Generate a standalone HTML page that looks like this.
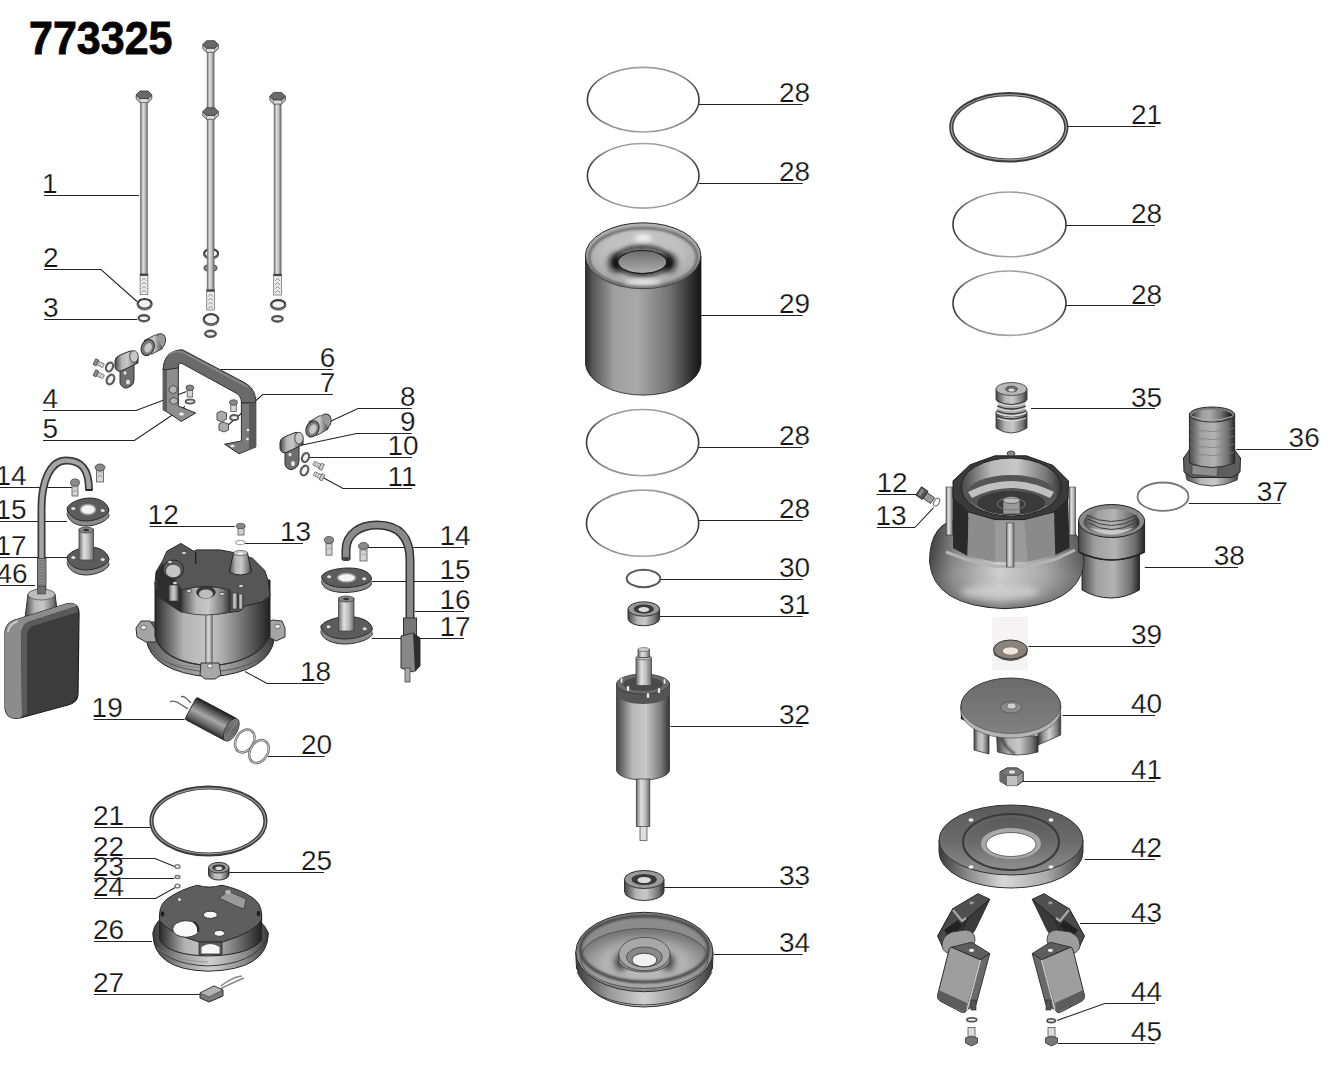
<!DOCTYPE html>
<html><head><meta charset="utf-8"><title>773325</title>
<style>
html,body{margin:0;padding:0;background:#fff;width:1341px;height:1081px;overflow:hidden}
svg{position:absolute;left:0;top:0;display:block}
text{font-family:"Liberation Sans",sans-serif;font-size:28px;fill:#141414;stroke:#fff;stroke-width:0.25px}
</style></head><body>
<svg width="1341" height="1081" viewBox="0 0 1341 1081">
<defs><linearGradient id="gCyl" x1="0" y1="0" x2="1" y2="0">
 <stop offset="0" stop-color="#2e2e2e"/><stop offset="0.06" stop-color="#555"/><stop offset="0.25" stop-color="#a0a0a0"/>
 <stop offset="0.45" stop-color="#a8a8a8"/><stop offset="0.72" stop-color="#747474"/><stop offset="0.92" stop-color="#2e2e2e"/><stop offset="1" stop-color="#141414"/>
</linearGradient>
<linearGradient id="gCylL" x1="0" y1="0" x2="1" y2="0">
 <stop offset="0" stop-color="#444"/><stop offset="0.3" stop-color="#b8b8b8"/><stop offset="0.55" stop-color="#c8c8c8"/>
 <stop offset="0.85" stop-color="#777"/><stop offset="1" stop-color="#333"/>
</linearGradient>
<linearGradient id="gShaft" x1="0" y1="0" x2="1" y2="0">
 <stop offset="0" stop-color="#6a6a6a"/><stop offset="0.35" stop-color="#e0e0e0"/><stop offset="0.65" stop-color="#bdbdbd"/><stop offset="1" stop-color="#6a6a6a"/>
</linearGradient>
<linearGradient id="gHousing" x1="0" y1="0" x2="1" y2="0">
 <stop offset="0" stop-color="#2a2a2a"/><stop offset="0.08" stop-color="#555"/><stop offset="0.25" stop-color="#b4b4b4"/>
 <stop offset="0.48" stop-color="#c4c4c4"/><stop offset="0.6" stop-color="#a8a8a8"/><stop offset="0.85" stop-color="#555"/><stop offset="1" stop-color="#222"/>
</linearGradient>
<linearGradient id="gFlange18" x1="0" y1="0" x2="1" y2="0">
 <stop offset="0" stop-color="#5a5a5a"/><stop offset="0.3" stop-color="#9a9a9a"/><stop offset="0.55" stop-color="#b0b0b0"/>
 <stop offset="0.85" stop-color="#6a6a6a"/><stop offset="1" stop-color="#3a3a3a"/>
</linearGradient>
<linearGradient id="gRimL" x1="0" y1="0" x2="1" y2="0">
 <stop offset="0" stop-color="#3a3a3a"/><stop offset="0.25" stop-color="#9a9a9a"/><stop offset="0.5" stop-color="#d0d0d0"/>
 <stop offset="0.8" stop-color="#8a8a8a"/><stop offset="1" stop-color="#3a3a3a"/>
</linearGradient>
<radialGradient id="gTorus" cx="0.5" cy="0.5" r="0.5">
 <stop offset="0" stop-color="#8a8a8a"/><stop offset="0.38" stop-color="#8a8a8a"/><stop offset="0.42" stop-color="#1a1a1a"/>
 <stop offset="0.6" stop-color="#6a6a6a"/><stop offset="0.78" stop-color="#c4c4c4"/><stop offset="0.92" stop-color="#a0a0a0"/><stop offset="1" stop-color="#555"/>
</radialGradient>
<linearGradient id="gVolute" x1="0" y1="0" x2="1" y2="0">
 <stop offset="0" stop-color="#333"/><stop offset="0.15" stop-color="#7a7a7a"/><stop offset="0.45" stop-color="#c8c8c8"/>
 <stop offset="0.75" stop-color="#9a9a9a"/><stop offset="1" stop-color="#4a4a4a"/>
</linearGradient>
<linearGradient id="gVoluteV" x1="0" y1="0" x2="0" y2="1">
 <stop offset="0" stop-color="#888" stop-opacity="0"/><stop offset="0.6" stop-color="#fff" stop-opacity="0.15"/><stop offset="1" stop-color="#222" stop-opacity="0.45"/>
</linearGradient>
<linearGradient id="gPlateRim" x1="0" y1="0" x2="1" y2="0">
 <stop offset="0" stop-color="#3a3a3a"/><stop offset="0.2" stop-color="#8a8a8a"/><stop offset="0.45" stop-color="#d8d8d8"/>
 <stop offset="0.75" stop-color="#aaa"/><stop offset="1" stop-color="#444"/>
</linearGradient>
<linearGradient id="gFloat" x1="0" y1="0" x2="1" y2="0.2">
 <stop offset="0" stop-color="#555"/><stop offset="0.15" stop-color="#aaa"/><stop offset="0.3" stop-color="#6a6a6a"/><stop offset="1" stop-color="#333"/>
</linearGradient>
<linearGradient id="gCap" x1="0" y1="0" x2="0" y2="1">
 <stop offset="0" stop-color="#1e1e1e"/><stop offset="0.2" stop-color="#555"/><stop offset="0.5" stop-color="#a8a8a8"/><stop offset="0.8" stop-color="#666"/><stop offset="1" stop-color="#2a2a2a"/>
</linearGradient>
<filter id="b1" x="-50%" y="-50%" width="200%" height="200%"><feGaussianBlur stdDeviation="1"/></filter>
<filter id="b2" x="-50%" y="-50%" width="200%" height="200%"><feGaussianBlur stdDeviation="2"/></filter>
<filter id="b3" x="-50%" y="-50%" width="200%" height="200%"><feGaussianBlur stdDeviation="3.5"/></filter>
<radialGradient id="gTop29" cx="0.5" cy="0.45" r="0.55">
 <stop offset="0" stop-color="#c8c8c8"/><stop offset="0.6" stop-color="#c0c0c0"/><stop offset="0.9" stop-color="#a8a8a8"/><stop offset="1" stop-color="#8a8a8a"/>
</radialGradient>
<linearGradient id="gHole" x1="0" y1="0" x2="0" y2="1">
 <stop offset="0" stop-color="#6a6a6a"/><stop offset="1" stop-color="#b0b0b0"/>
</linearGradient>
<radialGradient id="gBowl" cx="0.5" cy="0.6" r="0.55">
 <stop offset="0" stop-color="#c4c4c4"/><stop offset="0.6" stop-color="#b0b0b0"/><stop offset="1" stop-color="#7a7a7a"/>
</radialGradient>
<linearGradient id="gOutlet" x1="0" y1="0" x2="1" y2="0">
 <stop offset="0" stop-color="#4a4a4a"/><stop offset="0.25" stop-color="#a0a0a0"/><stop offset="0.55" stop-color="#b4b4b4"/><stop offset="0.85" stop-color="#707070"/><stop offset="1" stop-color="#262626"/>
</linearGradient>
<linearGradient id="gRingS" x1="0" y1="0" x2="1" y2="0">
 <stop offset="0" stop-color="#3a3a3a"/><stop offset="0.15" stop-color="#8a8a8a"/><stop offset="0.5" stop-color="#a4a4a4"/><stop offset="0.85" stop-color="#8a8a8a"/><stop offset="1" stop-color="#3a3a3a"/>
</linearGradient>
<linearGradient id="gPlate42" x1="0" y1="0" x2="0" y2="1">
 <stop offset="0" stop-color="#5a5a5a"/><stop offset="0.5" stop-color="#6a6a6a"/><stop offset="1" stop-color="#8e8e8e"/>
</linearGradient>
<linearGradient id="gImp" x1="0" y1="0" x2="0" y2="1">
 <stop offset="0" stop-color="#6a6a6a"/><stop offset="1" stop-color="#828282"/>
</linearGradient>
</defs>
<rect width="1341" height="1081" fill="#fff"/>
<text x="29" y="54" style="font-weight:bold;font-size:43px;fill:#050505;stroke:#050505;stroke-width:0.8px" transform="translate(29 54) scale(1 1.07) translate(-29 -54)">773325</text>
<text x="42.0" y="192.9">1</text>
<polyline points="44.0,195.5 139.0,195.5" fill="none" stroke="#222" stroke-width="1.05"/>
<text x="43.0" y="267.2">2</text>
<polyline points="44.0,269.5 101.0,269.5 137.0,301.5" fill="none" stroke="#222" stroke-width="1.05"/>
<text x="43.0" y="316.6">3</text>
<polyline points="44.0,319.5 137.0,319.5" fill="none" stroke="#222" stroke-width="1.05"/>
<text x="42.4" y="407.6">4</text>
<polyline points="43.0,410.5 136.0,410.5 186.6,391.5" fill="none" stroke="#222" stroke-width="1.05"/>
<text x="42.4" y="438.0">5</text>
<polyline points="43.0,440.5 134.4,440.5 185.0,406.5" fill="none" stroke="#222" stroke-width="1.05"/>
<text x="319.8" y="367.0">6</text>
<polyline points="221.0,369.5 332.8,369.5" fill="none" stroke="#222" stroke-width="1.05"/>
<text x="319.8" y="392.3">7</text>
<polyline points="225.4,427.5 262.7,394.5 332.8,394.5" fill="none" stroke="#222" stroke-width="1.05"/>
<text x="400.0" y="405.6">8</text>
<polyline points="330.0,421.5 358.0,408.5 411.8,408.5" fill="none" stroke="#222" stroke-width="1.05"/>
<text x="400.0" y="430.6">9</text>
<polyline points="300.0,445.5 356.6,433.5 411.8,433.5" fill="none" stroke="#222" stroke-width="1.05"/>
<text x="387.5" y="455.3">10</text>
<polyline points="307.0,457.5 412.0,457.5" fill="none" stroke="#222" stroke-width="1.05"/>
<text x="387.5" y="485.6">11</text>
<polyline points="321.0,476.5 343.0,488.5 412.0,488.5" fill="none" stroke="#222" stroke-width="1.05"/>
<text x="-4.5" y="484.6">14</text>
<polyline points="0.0,487.5 72.5,487.5" fill="none" stroke="#222" stroke-width="1.05"/>
<text x="-4.5" y="518.6">15</text>
<polyline points="0.0,521.5 67.0,521.5" fill="none" stroke="#222" stroke-width="1.05"/>
<text x="-4.5" y="555.2">17</text>
<polyline points="0.0,557.5 70.0,557.5" fill="none" stroke="#222" stroke-width="1.05"/>
<text x="-3.5" y="582.6">46</text>
<polyline points="0.0,585.5 35.0,585.5" fill="none" stroke="#222" stroke-width="1.05"/>
<text x="147.6" y="524.4">12</text>
<polyline points="149.6,526.5 234.7,526.5" fill="none" stroke="#222" stroke-width="1.05"/>
<text x="280.0" y="540.6">13</text>
<polyline points="245.0,543.5 303.0,543.5" fill="none" stroke="#222" stroke-width="1.05"/>
<text x="439.5" y="544.6">14</text>
<polyline points="366.6,547.5 464.0,547.5" fill="none" stroke="#222" stroke-width="1.05"/>
<text x="439.5" y="579.2">15</text>
<polyline points="371.6,581.5 464.0,581.5" fill="none" stroke="#222" stroke-width="1.05"/>
<text x="439.5" y="608.6">16</text>
<polyline points="415.0,611.5 464.0,611.5" fill="none" stroke="#222" stroke-width="1.05"/>
<text x="439.5" y="635.6">17</text>
<polyline points="371.6,638.5 464.0,638.5" fill="none" stroke="#222" stroke-width="1.05"/>
<text x="300.0" y="680.6">18</text>
<polyline points="245.0,671.5 267.0,683.5 324.0,683.5" fill="none" stroke="#222" stroke-width="1.05"/>
<text x="91.6" y="716.6">19</text>
<polyline points="93.6,719.5 184.7,719.5" fill="none" stroke="#222" stroke-width="1.05"/>
<text x="301.0" y="753.6">20</text>
<polyline points="268.0,756.5 324.7,756.5" fill="none" stroke="#222" stroke-width="1.05"/>
<text x="93.0" y="825.3">21</text>
<polyline points="94.0,827.5 150.6,827.5" fill="none" stroke="#222" stroke-width="1.05"/>
<text x="93.0" y="855.6">22</text>
<polyline points="94.0,858.5 155.0,858.5 177.0,867.5" fill="none" stroke="#222" stroke-width="1.05"/>
<text x="93.0" y="875.6">23</text>
<polyline points="94.0,878.5 174.0,878.5" fill="none" stroke="#222" stroke-width="1.05"/>
<text x="93.0" y="896.3">24</text>
<polyline points="94.0,898.5 155.6,898.5 177.0,886.5" fill="none" stroke="#222" stroke-width="1.05"/>
<text x="301.0" y="870.4">25</text>
<polyline points="229.0,872.5 324.0,872.5" fill="none" stroke="#222" stroke-width="1.05"/>
<text x="93.0" y="939.3">26</text>
<polyline points="94.0,941.5 152.0,941.5" fill="none" stroke="#222" stroke-width="1.05"/>
<text x="93.0" y="992.2">27</text>
<polyline points="94.0,994.5 199.6,994.5" fill="none" stroke="#222" stroke-width="1.05"/>
<text x="779.0" y="102.1">28</text>
<polyline points="698.8,104.5 802.7,104.5" fill="none" stroke="#222" stroke-width="1.05"/>
<text x="779.0" y="181.1">28</text>
<polyline points="698.8,183.5 802.7,183.5" fill="none" stroke="#222" stroke-width="1.05"/>
<text x="779.0" y="313.0">29</text>
<polyline points="701.2,315.5 802.7,315.5" fill="none" stroke="#222" stroke-width="1.05"/>
<text x="779.0" y="445.1">28</text>
<polyline points="698.7,447.5 802.7,447.5" fill="none" stroke="#222" stroke-width="1.05"/>
<text x="779.0" y="518.3">28</text>
<polyline points="698.7,520.5 802.7,520.5" fill="none" stroke="#222" stroke-width="1.05"/>
<text x="779.0" y="577.2">30</text>
<polyline points="661.0,579.5 802.7,579.5" fill="none" stroke="#222" stroke-width="1.05"/>
<text x="779.0" y="614.3">31</text>
<polyline points="659.6,616.5 802.7,616.5" fill="none" stroke="#222" stroke-width="1.05"/>
<text x="779.0" y="723.6">32</text>
<polyline points="670.4,726.5 802.7,726.5" fill="none" stroke="#222" stroke-width="1.05"/>
<text x="779.0" y="884.6">33</text>
<polyline points="664.0,887.5 802.7,887.5" fill="none" stroke="#222" stroke-width="1.05"/>
<text x="779.0" y="952.0">34</text>
<polyline points="714.0,954.5 802.7,954.5" fill="none" stroke="#222" stroke-width="1.05"/>
<text x="1131.0" y="124.3">21</text>
<polyline points="1067.0,126.5 1155.0,126.5" fill="none" stroke="#222" stroke-width="1.05"/>
<text x="1131.0" y="222.8">28</text>
<polyline points="1066.0,225.5 1155.0,225.5" fill="none" stroke="#222" stroke-width="1.05"/>
<text x="1131.0" y="303.5">28</text>
<polyline points="1066.0,305.5 1155.0,305.5" fill="none" stroke="#222" stroke-width="1.05"/>
<text x="1131.0" y="406.5">35</text>
<polyline points="1031.0,408.5 1155.0,408.5" fill="none" stroke="#222" stroke-width="1.05"/>
<text x="1131.0" y="644.4">39</text>
<polyline points="1026.9,646.5 1155.0,646.5" fill="none" stroke="#222" stroke-width="1.05"/>
<text x="1131.0" y="712.9">40</text>
<polyline points="1062.5,715.5 1155.0,715.5" fill="none" stroke="#222" stroke-width="1.05"/>
<text x="1131.0" y="779.2">41</text>
<polyline points="1022.4,781.5 1155.0,781.5" fill="none" stroke="#222" stroke-width="1.05"/>
<text x="1131.0" y="856.9">42</text>
<polyline points="1084.7,859.5 1155.0,859.5" fill="none" stroke="#222" stroke-width="1.05"/>
<text x="1131.0" y="921.5">43</text>
<polyline points="1080.0,923.5 1155.0,923.5" fill="none" stroke="#222" stroke-width="1.05"/>
<text x="1131.0" y="1040.6">45</text>
<polyline points="1058.0,1043.5 1155.0,1043.5" fill="none" stroke="#222" stroke-width="1.05"/>
<text x="1131.0" y="1000.6">44</text>
<polyline points="1057.0,1020.5 1104.7,1003.5 1155.0,1003.5" fill="none" stroke="#222" stroke-width="1.05"/>
<text x="1288.6" y="446.9">36</text>
<polyline points="1236.3,449.5 1312.0,449.5" fill="none" stroke="#222" stroke-width="1.05"/>
<text x="876.5" y="492.4">12</text>
<polyline points="876.5,494.5 920.3,494.5" fill="none" stroke="#222" stroke-width="1.05"/>
<text x="875.5" y="525.0">13</text>
<polyline points="876.7,527.5 914.8,527.5 933.7,507.5" fill="none" stroke="#222" stroke-width="1.05"/>
<text x="1256.7" y="501.3">37</text>
<polyline points="1188.8,503.5 1281.0,503.5" fill="none" stroke="#222" stroke-width="1.05"/>
<text x="1213.8" y="565.4">38</text>
<polyline points="1144.8,567.5 1238.0,567.5" fill="none" stroke="#222" stroke-width="1.05"/>
<rect x="140.5" y="101.0" width="7.0" height="173.2" fill="url(#gShaft)" stroke="#6a6a6a" stroke-width="0.6" />
<rect x="140.1" y="274.2" width="7.8" height="20.4" fill="#ececec" stroke="#777" stroke-width="0.8" />
<rect x="139.9" y="273.7" width="8.2" height="2.2" fill="#444" stroke="none" stroke-width="1" />
<polyline points="141.7,280.7 144.0,278.2 146.3,280.7" fill="none" stroke="#777" stroke-width="0.8"/>
<polyline points="141.7,284.7 144.0,282.2 146.3,284.7" fill="none" stroke="#777" stroke-width="0.8"/>
<polyline points="141.7,288.7 144.0,286.2 146.3,288.7" fill="none" stroke="#777" stroke-width="0.8"/>
<polyline points="141.7,292.7 144.0,290.2 146.3,292.7" fill="none" stroke="#777" stroke-width="0.8"/>
<polygon points="136.2,94.8 136.2,99.0 140.0,102.5 148.0,102.5 151.8,99.0 151.8,94.8 148.0,98.5 140.0,98.5" fill="#c0c0c0" stroke="#3e3e3e" stroke-width="0.8" />
<polygon points="140.0,98.5 148.0,98.5 148.0,102.5 140.0,102.5" fill="#dcdcdc" stroke="#555" stroke-width="0.5" />
<polygon points="136.2,94.8 140.0,91.0 148.0,91.0 151.8,94.8 148.0,98.5 140.0,98.5" fill="#6a6a6a" stroke="#333" stroke-width="0.8" />
<ellipse cx="144.6" cy="304.6" rx="6.9" ry="4.8" fill="none" stroke="#888" stroke-width="2.2" />
<ellipse cx="144.6" cy="303.8" rx="6.9" ry="4.8" fill="#f2f2f2" stroke="#3e3e3e" stroke-width="2.2" />
<path d="M137.5,303.8 A6.8999999999999995,4.8 0 0 0 151.7,303.8" fill="none" stroke="#7a7a7a" stroke-width="1" />
<ellipse cx="143.9" cy="318.2" rx="5.3" ry="3.0" fill="#f0f0f0" stroke="#555" stroke-width="2.4" />
<rect x="207.1" y="50.7" width="7.0" height="239.3" fill="url(#gShaft)" stroke="#6a6a6a" stroke-width="0.6" />
<rect x="206.7" y="290.0" width="7.8" height="20.0" fill="#ececec" stroke="#777" stroke-width="0.8" />
<rect x="206.5" y="289.5" width="8.2" height="2.2" fill="#444" stroke="none" stroke-width="1" />
<polyline points="208.3,296.5 210.6,294.0 212.9,296.5" fill="none" stroke="#777" stroke-width="0.8"/>
<polyline points="208.3,300.5 210.6,298.0 212.9,300.5" fill="none" stroke="#777" stroke-width="0.8"/>
<polyline points="208.3,304.5 210.6,302.0 212.9,304.5" fill="none" stroke="#777" stroke-width="0.8"/>
<polyline points="208.3,308.5 210.6,306.0 212.9,308.5" fill="none" stroke="#777" stroke-width="0.8"/>
<polygon points="202.8,44.5 202.8,48.7 206.6,52.2 214.6,52.2 218.3,48.7 218.3,44.5 214.6,48.2 206.6,48.2" fill="#c0c0c0" stroke="#3e3e3e" stroke-width="0.8" />
<polygon points="206.6,48.2 214.6,48.2 214.6,52.2 206.6,52.2" fill="#dcdcdc" stroke="#555" stroke-width="0.5" />
<polygon points="202.8,44.5 206.6,40.7 214.6,40.7 218.3,44.5 214.6,48.2 206.6,48.2" fill="#6a6a6a" stroke="#333" stroke-width="0.8" />
<polygon points="202.8,111.6 202.8,115.8 206.6,119.3 214.6,119.3 218.3,115.8 218.3,111.6 214.6,115.3 206.6,115.3" fill="#c0c0c0" stroke="#3e3e3e" stroke-width="0.8" />
<polygon points="206.6,115.3 214.6,115.3 214.6,119.3 206.6,119.3" fill="#dcdcdc" stroke="#555" stroke-width="0.5" />
<polygon points="202.8,111.6 206.6,107.8 214.6,107.8 218.3,111.6 214.6,115.3 206.6,115.3" fill="#6a6a6a" stroke="#333" stroke-width="0.8" />
<ellipse cx="211.1" cy="254.3" rx="7.0" ry="4.4" fill="none" stroke="#888" stroke-width="2.2" />
<ellipse cx="211.1" cy="253.5" rx="7.0" ry="4.4" fill="#f2f2f2" stroke="#3e3e3e" stroke-width="2.2" />
<path d="M203.9,253.5 A6.999999999999999,4.3999999999999995 0 0 0 218.29999999999998,253.5" fill="none" stroke="#7a7a7a" stroke-width="1" />
<ellipse cx="210.5" cy="268.0" rx="6.5" ry="3.5" fill="#8a8a8a" stroke="#555" stroke-width="1.2" />
<rect x="207.1" y="246.0" width="7.0" height="26.0" fill="url(#gShaft)" stroke="none" stroke-width="1" />
<ellipse cx="211.0" cy="320.1" rx="7.2" ry="5.1" fill="none" stroke="#888" stroke-width="2.2" />
<ellipse cx="211.0" cy="319.3" rx="7.2" ry="5.1" fill="#f2f2f2" stroke="#3e3e3e" stroke-width="2.2" />
<path d="M203.6,319.3 A7.2,5.1 0 0 0 218.4,319.3" fill="none" stroke="#7a7a7a" stroke-width="1" />
<ellipse cx="210.5" cy="333.8" rx="5.3" ry="3.0" fill="#f0f0f0" stroke="#555" stroke-width="2.4" />
<rect x="274.1" y="102.4" width="7.0" height="172.0" fill="url(#gShaft)" stroke="#6a6a6a" stroke-width="0.6" />
<rect x="273.7" y="274.4" width="7.8" height="20.6" fill="#ececec" stroke="#777" stroke-width="0.8" />
<rect x="273.5" y="273.9" width="8.2" height="2.2" fill="#444" stroke="none" stroke-width="1" />
<polyline points="275.3,280.9 277.6,278.4 279.9,280.9" fill="none" stroke="#777" stroke-width="0.8"/>
<polyline points="275.3,284.9 277.6,282.4 279.9,284.9" fill="none" stroke="#777" stroke-width="0.8"/>
<polyline points="275.3,288.9 277.6,286.4 279.9,288.9" fill="none" stroke="#777" stroke-width="0.8"/>
<polyline points="275.3,292.9 277.6,290.4 279.9,292.9" fill="none" stroke="#777" stroke-width="0.8"/>
<polygon points="269.9,96.2 269.9,100.4 273.6,103.9 281.6,103.9 285.4,100.4 285.4,96.2 281.6,99.9 273.6,99.9" fill="#c0c0c0" stroke="#3e3e3e" stroke-width="0.8" />
<polygon points="273.6,99.9 281.6,99.9 281.6,103.9 273.6,103.9" fill="#dcdcdc" stroke="#555" stroke-width="0.5" />
<polygon points="269.9,96.2 273.6,92.4 281.6,92.4 285.4,96.2 281.6,99.9 273.6,99.9" fill="#6a6a6a" stroke="#333" stroke-width="0.8" />
<ellipse cx="278.2" cy="305.3" rx="7.0" ry="4.4" fill="none" stroke="#888" stroke-width="2.2" />
<ellipse cx="278.2" cy="304.5" rx="7.0" ry="4.4" fill="#f2f2f2" stroke="#3e3e3e" stroke-width="2.2" />
<path d="M271.0,304.5 A6.999999999999999,4.3999999999999995 0 0 0 285.4,304.5" fill="none" stroke="#7a7a7a" stroke-width="1" />
<ellipse cx="277.4" cy="318.8" rx="5.2" ry="2.7" fill="#f0f0f0" stroke="#555" stroke-width="2.4" />
<polygon points="163.2,368.0 178.3,364.0 178.3,406.0 195.7,413.0 181.3,421.4 166.8,411.8 163.2,410.0" fill="#8e8e8e" stroke="#2a2a2a" stroke-width="1" />
<polygon points="163.2,368.0 167.0,366.0 167.0,412.0 163.2,410.0" fill="#5e5e5e" stroke="none" stroke-width="1" />
<ellipse cx="181.5" cy="414.0" rx="2.4" ry="1.5" fill="#eee" stroke="none" stroke-width="1" />
<path d="M163.2,370 C163,357 171,349.8 182.5,349.8 L245,382.9 C253,387.5 255.8,394 255.8,403 L241.4,403 C241.4,398 239.5,395 235,392.5 L183,364 C179.5,362.3 178.3,364 178.3,368 Z" fill="#6a6a6a" stroke="#2e2e2e" stroke-width="1" />
<path d="M168,355 C172,351.5 177,351 182.5,352 L248,387" fill="none" stroke="#8a8a8a" stroke-width="1.6" />
<polygon points="241.4,403.0 255.8,403.0 255.8,447.0 239.0,453.8 224.5,444.2 241.4,441.0" fill="#7a7a7a" stroke="#2e2e2e" stroke-width="1" />
<polygon points="249.0,403.0 255.8,403.0 255.8,447.0 249.0,450.0" fill="#5a5a5a" stroke="none" stroke-width="1" />
<ellipse cx="248.0" cy="430.0" rx="1.3" ry="1.3" fill="#eee" stroke="none" stroke-width="1" />
<ellipse cx="247.5" cy="439.0" rx="1.3" ry="1.3" fill="#eee" stroke="none" stroke-width="1" />
<ellipse cx="232.5" cy="446.0" rx="2.2" ry="1.3" fill="#eee" stroke="none" stroke-width="1" />
<polygon points="169.2,388.0 173.0,385.3 177.0,387.5 177.0,391.5 173.0,393.7 169.2,391.5" fill="#b4b4b4" stroke="#3a3a3a" stroke-width="0.8" />
<polygon points="169.8,399.5 173.7,397.3 177.7,399.5 177.7,402.5 173.7,404.5 169.8,402.5" fill="#b4b4b4" stroke="#3a3a3a" stroke-width="0.8" />
<rect x="187.2" y="388.5" width="5.5" height="8.5" fill="#d4d4d4" stroke="#555" stroke-width="0.8" />
<ellipse cx="189.9" cy="387.8" rx="4.0" ry="2.8" fill="#8a8a8a" stroke="#444" stroke-width="0.8" />
<ellipse cx="190.1" cy="401.6" rx="4.4" ry="2.0" fill="#f0f0f0" stroke="#5a5a5a" stroke-width="2" />
<rect x="230.8" y="403.5" width="5.5" height="8.0" fill="#d4d4d4" stroke="#555" stroke-width="0.8" />
<ellipse cx="233.5" cy="402.5" rx="4.0" ry="2.8" fill="#8a8a8a" stroke="#444" stroke-width="0.8" />
<polygon points="217.0,413.0 221.0,411.0 226.5,413.0 226.5,419.0 222.0,422.0 217.0,420.0" fill="#aaa" stroke="#444" stroke-width="0.9" />
<polygon points="219.0,424.0 223.0,422.0 228.5,424.0 228.5,430.0 224.0,432.0 219.0,430.0" fill="#aaa" stroke="#444" stroke-width="0.9" />
<ellipse cx="234.2" cy="417.5" rx="4.0" ry="2.5" fill="#f0f0f0" stroke="#5a5a5a" stroke-width="2" />
<path d="M120,367 L120,383 Q122,388.5 127,388 L131,386 Q134,384 134,379 L134,365 Z" fill="#6e6e6e" stroke="#2e2e2e" stroke-width="1" />
<ellipse cx="128.0" cy="382.0" rx="2.0" ry="2.6" fill="#e4e4e4" stroke="none" stroke-width="1" />
<ellipse cx="125.0" cy="373.0" rx="1.5" ry="1.8" fill="#e4e4e4" stroke="none" stroke-width="1" />
<path d="M115,361 Q115,357 120,355 L130,351 Q138,350 138,358 L138,363 L121,371 Q116,372 115,367 Z" fill="url(#gCylL)" stroke="#2e2e2e" stroke-width="1" />
<ellipse cx="134.0" cy="356.5" rx="4.2" ry="5.8" fill="#c8c8c8" stroke="#3a3a3a" stroke-width="0.8" />
<ellipse cx="159.0" cy="341.7" rx="6.3" ry="8.3" fill="#9a9a9a" stroke="#333" stroke-width="0.9" transform="rotate(25 159.0 341.7)"/>
<polygon points="151.3,354.4 162.6,348.6 155.4,334.8 144.1,340.6" fill="url(#gCylL)" stroke="none" stroke-width="1" />
<path d="M151.3,354.4 L162.6,348.6" fill="none" stroke="#333" stroke-width="0.9" />
<path d="M144.1,340.6 L155.4,334.8" fill="none" stroke="#333" stroke-width="0.9" />
<ellipse cx="147.7" cy="347.5" rx="6.3" ry="8.3" fill="#7a7a7a" stroke="#2e2e2e" stroke-width="1" transform="rotate(25 147.7 347.5)"/>
<ellipse cx="148.2" cy="347.5" rx="3.5" ry="5.0" fill="#c8c8c8" stroke="none" stroke-width="1" transform="rotate(25 147.7 347.5)"/>
<g transform="rotate(25 98.5 363.5)">
<rect x="96.5" y="361.5" width="7.5" height="4.0" fill="#dcdcdc" stroke="#666" stroke-width="0.7" />
<polyline points="98.5,361.5 98.5,365.5" fill="none" stroke="#888" stroke-width="0.6"/>
<polyline points="101.0,361.5 101.0,365.5" fill="none" stroke="#888" stroke-width="0.6"/>
<rect x="94.0" y="360.3" width="3.2" height="6.4" fill="#8a8a8a" stroke="#444" stroke-width="0.7" />
</g>
<g transform="rotate(25 98.5 374.5)">
<rect x="96.5" y="372.5" width="7.5" height="4.0" fill="#dcdcdc" stroke="#666" stroke-width="0.7" />
<polyline points="98.5,372.5 98.5,376.5" fill="none" stroke="#888" stroke-width="0.6"/>
<polyline points="101.0,372.5 101.0,376.5" fill="none" stroke="#888" stroke-width="0.6"/>
<rect x="94.0" y="371.3" width="3.2" height="6.4" fill="#8a8a8a" stroke="#444" stroke-width="0.7" />
</g>
<ellipse cx="109.5" cy="367.0" rx="3.3" ry="4.7" fill="#f0f0f0" stroke="#5a5a5a" stroke-width="2.2" transform="rotate(25 109.5 367)"/>
<ellipse cx="110.5" cy="379.5" rx="3.5" ry="5.1" fill="#f0f0f0" stroke="#5a5a5a" stroke-width="2.2" transform="rotate(25 110.5 379.5)"/>
<path d="M285,448.6 L285,464.6 Q287,470.1 292,469.6 L296,467.6 Q299,465.6 299,460.6 L299,446.6 Z" fill="#6e6e6e" stroke="#2e2e2e" stroke-width="1" />
<ellipse cx="293.0" cy="463.6" rx="2.0" ry="2.6" fill="#e4e4e4" stroke="none" stroke-width="1" />
<ellipse cx="290.0" cy="454.6" rx="1.5" ry="1.8" fill="#e4e4e4" stroke="none" stroke-width="1" />
<path d="M280,442.6 Q280,438.6 285,436.6 L295,432.6 Q303,431.6 303,439.6 L303,444.6 L286,452.6 Q281,453.6 280,448.6 Z" fill="url(#gCylL)" stroke="#2e2e2e" stroke-width="1" />
<ellipse cx="299.0" cy="438.1" rx="4.2" ry="5.8" fill="#c8c8c8" stroke="#3a3a3a" stroke-width="0.8" />
<ellipse cx="324.5" cy="422.0" rx="6.3" ry="8.3" fill="#9a9a9a" stroke="#333" stroke-width="0.9" transform="rotate(25 324.5 422)"/>
<polygon points="316.4,435.7 328.4,428.8 320.6,415.2 308.6,422.1" fill="url(#gCylL)" stroke="none" stroke-width="1" />
<path d="M316.4,435.7 L328.4,428.8" fill="none" stroke="#333" stroke-width="0.9" />
<path d="M308.6,422.1 L320.6,415.2" fill="none" stroke="#333" stroke-width="0.9" />
<ellipse cx="312.5" cy="428.9" rx="6.3" ry="8.3" fill="#7a7a7a" stroke="#2e2e2e" stroke-width="1" transform="rotate(25 312.5 428.9)"/>
<ellipse cx="313.0" cy="428.9" rx="3.5" ry="5.0" fill="#c8c8c8" stroke="none" stroke-width="1" transform="rotate(25 312.5 428.9)"/>
<ellipse cx="305.5" cy="457.5" rx="3.3" ry="4.7" fill="#f0f0f0" stroke="#5a5a5a" stroke-width="2.2" transform="rotate(25 305.5 457.5)"/>
<ellipse cx="304.5" cy="470.5" rx="3.5" ry="5.1" fill="#f0f0f0" stroke="#5a5a5a" stroke-width="2.2" transform="rotate(25 304.5 470.5)"/>
<g transform="rotate(25 315.5 464)">
<rect x="313.5" y="462.0" width="7.5" height="4.0" fill="#dcdcdc" stroke="#666" stroke-width="0.7" />
<polyline points="315.5,462.0 315.5,466.0" fill="none" stroke="#888" stroke-width="0.6"/>
<polyline points="318.0,462.0 318.0,466.0" fill="none" stroke="#888" stroke-width="0.6"/>
<rect x="320.5" y="460.8" width="3.2" height="6.4" fill="#d0d0d0" stroke="#555" stroke-width="0.7" />
</g>
<g transform="rotate(25 316 474.5)">
<rect x="314.0" y="472.5" width="7.5" height="4.0" fill="#dcdcdc" stroke="#666" stroke-width="0.7" />
<polyline points="316.0,472.5 316.0,476.5" fill="none" stroke="#888" stroke-width="0.6"/>
<polyline points="318.5,472.5 318.5,476.5" fill="none" stroke="#888" stroke-width="0.6"/>
<rect x="321.0" y="471.3" width="3.2" height="6.4" fill="#d0d0d0" stroke="#555" stroke-width="0.7" />
</g>
<path d="M41.5,592 L41.5,508 C41.5,482 50,460.5 66,460.5 C83,460.5 89,471 89,490" fill="none" stroke="#3a3a3a" stroke-width="8" />
<path d="M41.5,592 L41.5,508 C41.5,482 50,460.5 66,460.5 C83,460.5 89,471 89,490" fill="none" stroke="#a4a4a4" stroke-width="4.6" />
<path d="M85.5,490 L92.5,490" fill="none" stroke="#222" stroke-width="2" />
<rect x="37.5" y="558.5" width="8.5" height="32.0" fill="#8c8c8c" stroke="#3a3a3a" stroke-width="0.8" />
<polyline points="37.5,561.0 46.0,561.0" fill="none" stroke="#5a5a5a" stroke-width="0.6"/>
<polyline points="37.5,564.0 46.0,564.0" fill="none" stroke="#5a5a5a" stroke-width="0.6"/>
<polyline points="37.5,567.0 46.0,567.0" fill="none" stroke="#5a5a5a" stroke-width="0.6"/>
<polyline points="37.5,570.0 46.0,570.0" fill="none" stroke="#5a5a5a" stroke-width="0.6"/>
<polyline points="37.5,573.0 46.0,573.0" fill="none" stroke="#5a5a5a" stroke-width="0.6"/>
<polyline points="37.5,576.0 46.0,576.0" fill="none" stroke="#5a5a5a" stroke-width="0.6"/>
<polyline points="37.5,579.0 46.0,579.0" fill="none" stroke="#5a5a5a" stroke-width="0.6"/>
<polyline points="37.5,582.0 46.0,582.0" fill="none" stroke="#5a5a5a" stroke-width="0.6"/>
<polyline points="37.5,585.0 46.0,585.0" fill="none" stroke="#5a5a5a" stroke-width="0.6"/>
<polyline points="37.5,588.0 46.0,588.0" fill="none" stroke="#5a5a5a" stroke-width="0.6"/>
<path d="M28,594 L25,618 Q41,630 58,618 L55,594 Q41,584 28,594 Z" fill="url(#gCylL)" stroke="#333" stroke-width="1" />
<ellipse cx="41.5" cy="594.5" rx="13.5" ry="5.5" fill="#bdbdbd" stroke="#555" stroke-width="0.8" />
<rect x="37.5" y="586.0" width="8.0" height="8.0" fill="#6e6e6e" stroke="#3a3a3a" stroke-width="0.6" />
<path d="M5,636 Q4,622 18,619 L66,604 Q79,601 79,614 L78,694 Q78,702 68,705 L20,718 Q6,720 5,708 Z" fill="#3c3c3c" stroke="#1e1e1e" stroke-width="1.2" />
<path d="M5,636 Q4,622 18,619 L66,604 Q74,602 77,606 L28,622 Q21,625 21,636 L22,716 L20,718 Q6,720 5,708 Z" fill="#8c8c8c" stroke="none" stroke-width="1" />
<path d="M22,716 L21,636 Q21,625 28,622 L77,606 L78,612 L33,626 Q27,628 27,638 L27,714 Z" fill="#5a5a5a" stroke="none" stroke-width="1" />
<path d="M8,632 Q9,624 18,621" fill="none" stroke="#c8c8c8" stroke-width="2" />
<rect x="72.0" y="484.0" width="6.0" height="12.0" fill="#d4d4d4" stroke="#555" stroke-width="0.8" />
<polyline points="73.0,488.0 75.0,486.0 77.0,488.0" fill="none" stroke="#777" stroke-width="0.6"/>
<polyline points="73.0,492.0 75.0,490.0 77.0,492.0" fill="none" stroke="#777" stroke-width="0.6"/>
<ellipse cx="75.0" cy="482.5" rx="4.5" ry="3.5" fill="#8a8a8a" stroke="#444" stroke-width="0.8" />
<rect x="96.5" y="469.0" width="7.0" height="13.0" fill="#d4d4d4" stroke="#555" stroke-width="0.8" />
<polyline points="97.5,473.0 100.0,471.0 102.5,473.0" fill="none" stroke="#777" stroke-width="0.6"/>
<polyline points="97.5,477.0 100.0,475.0 102.5,477.0" fill="none" stroke="#777" stroke-width="0.6"/>
<ellipse cx="100.0" cy="467.5" rx="5.0" ry="3.5" fill="#8a8a8a" stroke="#444" stroke-width="0.8" />
<path d="M67,513.5 C68,508.5 79.5,503 90.0,503 C100.5,503 108,508.5 109,515.5 C108,520.5 96.5,526 86.0,526 C75.5,526 68,520.5 67,513.5 Z" fill="#8a8a8a" stroke="#2e2e2e" stroke-width="1" />
<rect x="67" y="509.5" width="42" height="5" fill="#8a8a8a"/>
<path d="M67,508.5 C68,503.5 79.5,498 90.0,498 C100.5,498 108,503.5 109,510.5 C108,515.5 96.5,521 86.0,521 C75.5,521 68,515.5 67,508.5 Z" fill="#5c5c5c" stroke="#2a2a2a" stroke-width="1" />
<ellipse cx="73.3" cy="508.5" rx="2.0" ry="1.5" fill="#e0e0e0" stroke="none" stroke-width="1" />
<ellipse cx="102.7" cy="510.5" rx="2.0" ry="1.5" fill="#e0e0e0" stroke="none" stroke-width="1" />
<ellipse cx="88.0" cy="509.5" rx="7.6" ry="5.1" fill="#f4f4f4" stroke="#9a9a9a" stroke-width="1.5" />
<path d="M67,562.5 C68,557.5 79.5,552 90.0,552 C100.5,552 108,557.5 109,564.5 C108,569.5 96.5,575 86.0,575 C75.5,575 68,569.5 67,562.5 Z" fill="#8a8a8a" stroke="#2e2e2e" stroke-width="1" />
<rect x="67" y="558.5" width="42" height="5" fill="#8a8a8a"/>
<path d="M67,557.5 C68,552.5 79.5,547 90.0,547 C100.5,547 108,552.5 109,559.5 C108,564.5 96.5,570 86.0,570 C75.5,570 68,564.5 67,557.5 Z" fill="#5c5c5c" stroke="#2a2a2a" stroke-width="1" />
<ellipse cx="73.3" cy="557.5" rx="2.0" ry="1.5" fill="#e0e0e0" stroke="none" stroke-width="1" />
<ellipse cx="102.7" cy="559.5" rx="2.0" ry="1.5" fill="#e0e0e0" stroke="none" stroke-width="1" />
<rect x="79.0" y="529.0" width="14.5" height="31.0" fill="url(#gShaft)" stroke="#444" stroke-width="0.8" />
<ellipse cx="86.2" cy="530.0" rx="7.2" ry="3.0" fill="#888" stroke="#444" stroke-width="0.8" />
<ellipse cx="86.2" cy="530.0" rx="3.0" ry="1.3" fill="#333" stroke="none" stroke-width="1" />
<path d="M150,622 Q146,628 146,638 Q150,672 210,677 Q270,672 274.5,638 Q274.5,628 270.5,622 Z" fill="url(#gFlange18)" stroke="#2a2a2a" stroke-width="1" />
<path d="M149,646 Q162,669 210,672 Q258,669 271,646" fill="none" stroke="#555" stroke-width="1" />
<path d="M152,652 Q165,667 210,668" fill="none" stroke="#777" stroke-width="0.8" />
<polygon points="136.0,628.0 141.0,621.0 150.0,621.0 156.0,630.0 156.0,642.0 146.0,642.0 137.0,637.0" fill="#a4a4a4" stroke="#333" stroke-width="1" />
<ellipse cx="143.5" cy="627.5" rx="2.8" ry="2.2" fill="#eee" stroke="#444" stroke-width="0.7" />
<polygon points="266.0,624.0 272.0,620.0 282.0,621.0 285.0,628.0 285.0,637.0 276.0,641.0 267.0,636.0" fill="#a4a4a4" stroke="#333" stroke-width="1" />
<ellipse cx="277.5" cy="626.5" rx="2.8" ry="2.2" fill="#eee" stroke="#444" stroke-width="0.7" />
<path d="M155,582 L155,636 Q162,662 210,666 Q258,662 270,636 L270,580 Z" fill="url(#gHousing)" stroke="#222" stroke-width="1" />
<path d="M155,636 Q162,662 210,666 Q258,662 270,636" fill="none" stroke="#333" stroke-width="1.2" />
<rect x="205.5" y="611.0" width="7.0" height="54.0" fill="url(#gShaft)" stroke="#666" stroke-width="0.5" />
<polygon points="201.0,663.0 219.0,663.0 221.0,675.0 215.0,679.0 205.0,679.0 200.0,675.0" fill="#a8a8a8" stroke="#333" stroke-width="1" />
<ellipse cx="210.0" cy="666.0" rx="2.6" ry="2.0" fill="#eee" stroke="#444" stroke-width="0.6" />
<path d="M155,584 L156,572 L163,560 L166.8,551.3 L180.8,543.4 L193.8,551.3 L196.6,549.9 L219.9,549.9 L232,552.2 L252.5,558.3 L264.7,570.4 L268.4,581.6 L270,596 L262,602 L245,606 L240,611 L218,614 L190,612 L180,606 L168,602 L157,596 Z" fill="#565656" stroke="#262626" stroke-width="1" />
<polygon points="156.0,572.0 163.0,563.0 181.7,589.0 181.7,613.0 168.0,604.0 157.0,596.0" fill="#2e2e2e" stroke="none" stroke-width="1" />
<path d="M181.7,590 Q205,583 230.2,590 L230.2,612 Q205,618 181.7,612 Z" fill="url(#gCylL)" stroke="#333" stroke-width="0.8" />
<path d="M181.7,590 Q205,583 230.2,590" fill="none" stroke="#3a3a3a" stroke-width="1.2" />
<rect x="168.6" y="585.0" width="10.3" height="16.0" fill="url(#gCylL)" stroke="#333" stroke-width="0.6" />
<rect x="232.0" y="593.0" width="5.5" height="16.0" fill="url(#gCylL)" stroke="#333" stroke-width="0.6" />
<rect x="238.5" y="594.0" width="4.5" height="15.0" fill="url(#gCylL)" stroke="#333" stroke-width="0.5" />
<ellipse cx="173.3" cy="569.4" rx="10.3" ry="9.4" fill="#5a5a5a" stroke="#262626" stroke-width="1" />
<ellipse cx="173.3" cy="571.0" rx="7.8" ry="6.8" fill="#c4c4c4" stroke="#333" stroke-width="0.8" />
<ellipse cx="205.9" cy="592.3" rx="9.3" ry="6.0" fill="#3a3a3a" stroke="#262626" stroke-width="0.8" />
<ellipse cx="205.9" cy="594.0" rx="7.0" ry="4.6" fill="#bdbdbd" stroke="none" stroke-width="1" />
<ellipse cx="184.0" cy="553.0" rx="2.4" ry="1.6" fill="#d8d8d8" stroke="#333" stroke-width="0.6" />
<ellipse cx="170.0" cy="562.0" rx="2.4" ry="1.6" fill="#d8d8d8" stroke="#333" stroke-width="0.6" />
<ellipse cx="175.0" cy="583.0" rx="2.4" ry="1.6" fill="#d8d8d8" stroke="#333" stroke-width="0.6" />
<ellipse cx="189.0" cy="591.0" rx="2.4" ry="1.6" fill="#d8d8d8" stroke="#333" stroke-width="0.6" />
<ellipse cx="222.0" cy="594.0" rx="2.4" ry="1.6" fill="#d8d8d8" stroke="#333" stroke-width="0.6" />
<ellipse cx="241.0" cy="586.0" rx="2.4" ry="1.6" fill="#d8d8d8" stroke="#333" stroke-width="0.6" />
<rect x="195.0" y="552.0" width="1.3" height="12.0" fill="#1e1e1e" stroke="none" stroke-width="1" />
<path d="M229.2,572 L233.5,553 L247.5,553 L251.6,572 Q240.5,578 229.2,572 Z" fill="url(#gCylL)" stroke="#262626" stroke-width="1" />
<ellipse cx="240.5" cy="553.0" rx="7.0" ry="2.6" fill="#c8c8c8" stroke="#444" stroke-width="0.6" />
<ellipse cx="240.5" cy="553.5" rx="2.5" ry="1.2" fill="#eee" stroke="none" stroke-width="1" />
<rect x="238.0" y="527.0" width="6.0" height="8.0" fill="#d0d0d0" stroke="#555" stroke-width="0.8" />
<ellipse cx="240.7" cy="526.0" rx="4.5" ry="2.6" fill="#888" stroke="#444" stroke-width="0.8" />
<ellipse cx="240.3" cy="542.5" rx="4.6" ry="2.2" fill="none" stroke="#aaa" stroke-width="1.2" />
<rect x="326.0" y="541.6" width="6.0" height="13.5" fill="#d4d4d4" stroke="#555" stroke-width="0.8" />
<polyline points="327.0,545.6 329.0,543.6 331.0,545.6" fill="none" stroke="#777" stroke-width="0.6"/>
<polyline points="327.0,549.6 329.0,547.6 331.0,549.6" fill="none" stroke="#777" stroke-width="0.6"/>
<ellipse cx="329.0" cy="540.1" rx="4.5" ry="3.5" fill="#8a8a8a" stroke="#444" stroke-width="0.8" />
<rect x="360.0" y="547.5" width="7.0" height="13.5" fill="#d4d4d4" stroke="#555" stroke-width="0.8" />
<polyline points="361.0,551.5 363.5,549.5 366.0,551.5" fill="none" stroke="#777" stroke-width="0.6"/>
<polyline points="361.0,555.5 363.5,553.5 366.0,555.5" fill="none" stroke="#777" stroke-width="0.6"/>
<ellipse cx="363.5" cy="546.0" rx="5.0" ry="3.5" fill="#8a8a8a" stroke="#444" stroke-width="0.8" />
<path d="M321.6,581.75 C322.6,576.75 336.1,573 348.6,573 C361.1,573 370.6,576.75 371.6,583.75 C370.6,588.75 357.1,592.5 344.6,592.5 C332.1,592.5 322.6,588.75 321.6,581.75 Z" fill="#8a8a8a" stroke="#2e2e2e" stroke-width="1" />
<rect x="321.6" y="577.75" width="50.0" height="5" fill="#8a8a8a"/>
<path d="M321.6,576.75 C322.6,571.75 336.1,568 348.6,568 C361.1,568 370.6,571.75 371.6,578.75 C370.6,583.75 357.1,587.5 344.6,587.5 C332.1,587.5 322.6,583.75 321.6,576.75 Z" fill="#5c5c5c" stroke="#2a2a2a" stroke-width="1" />
<ellipse cx="329.1" cy="576.8" rx="2.0" ry="1.5" fill="#e0e0e0" stroke="none" stroke-width="1" />
<ellipse cx="364.1" cy="578.8" rx="2.0" ry="1.5" fill="#e0e0e0" stroke="none" stroke-width="1" />
<ellipse cx="346.6" cy="577.8" rx="9.0" ry="4.3" fill="#f4f4f4" stroke="#9a9a9a" stroke-width="1.5" />
<path d="M320.8,631.8 C321.8,626.8 335.70000000000005,621.6 348.6,621.6 C361.5,621.6 371.4,626.8 372.4,633.8 C371.4,638.8 357.5,644.0 344.6,644.0 C331.70000000000005,644.0 321.8,638.8 320.8,631.8 Z" fill="#8a8a8a" stroke="#2e2e2e" stroke-width="1" />
<rect x="320.8" y="627.8" width="51.599999999999966" height="5" fill="#8a8a8a"/>
<path d="M320.8,626.8 C321.8,621.8 335.70000000000005,616.6 348.6,616.6 C361.5,616.6 371.4,621.8 372.4,628.8 C371.4,633.8 357.5,639.0 344.6,639.0 C331.70000000000005,639.0 321.8,633.8 320.8,626.8 Z" fill="#5c5c5c" stroke="#2a2a2a" stroke-width="1" />
<ellipse cx="328.5" cy="626.8" rx="2.0" ry="1.5" fill="#e0e0e0" stroke="none" stroke-width="1" />
<ellipse cx="364.7" cy="628.8" rx="2.0" ry="1.5" fill="#e0e0e0" stroke="none" stroke-width="1" />
<rect x="338.5" y="598.0" width="15.5" height="33.0" fill="url(#gShaft)" stroke="#444" stroke-width="0.8" />
<ellipse cx="346.2" cy="599.0" rx="7.7" ry="3.0" fill="#888" stroke="#444" stroke-width="0.8" />
<ellipse cx="346.2" cy="599.0" rx="3.0" ry="1.3" fill="#333" stroke="none" stroke-width="1" />
<path d="M346,559 L346,550 C346,534 360,525 377,525 C400,525 410,538 410,560 L410,622" fill="none" stroke="#333" stroke-width="9" />
<path d="M346,559 L346,550 C346,534 360,525 377,525 C400,525 410,538 410,560 L410,622" fill="none" stroke="#8a8a8a" stroke-width="6" />
<ellipse cx="346.0" cy="559.0" rx="4.5" ry="2.0" fill="#444" stroke="none" stroke-width="1" />
<rect x="403.5" y="618.0" width="13.0" height="18.0" fill="#777" stroke="#333" stroke-width="1" />
<polygon points="401.0,636.0 413.0,633.0 420.0,638.0 420.0,666.0 413.0,672.0 401.0,668.0" fill="#888" stroke="#333" stroke-width="1" />
<polygon points="413.0,633.0 420.0,638.0 420.0,666.0 415.0,672.0" fill="#2e2e2e" stroke="none" stroke-width="1" />
<rect x="405.0" y="668.0" width="5.0" height="14.0" fill="#aaa" stroke="#444" stroke-width="0.8" />
<path d="M181,697 C184,695 187,699 191,703" fill="none" stroke="#666" stroke-width="1.3" />
<path d="M170,702 C175,699 181,705 188,709" fill="none" stroke="#666" stroke-width="1.3" />
<g transform="rotate(28 211 719)">
<rect x="188.0" y="706.5" width="46.0" height="25.0" fill="url(#gCap)" stroke="#1e1e1e" stroke-width="0.8" rx="2"/>
<ellipse cx="234.0" cy="719.0" rx="6.0" ry="12.5" fill="#8a8a8a" stroke="#2a2a2a" stroke-width="0.8" />
<ellipse cx="234.0" cy="719.0" rx="4.5" ry="10.0" fill="none" stroke="#555" stroke-width="0.8" />
<ellipse cx="234.0" cy="719.0" rx="3.4" ry="7.5" fill="none" stroke="#555" stroke-width="0.8" />
<ellipse cx="234.0" cy="719.0" rx="2.2" ry="5.0" fill="none" stroke="#555" stroke-width="0.8" />
<ellipse cx="234.0" cy="719.0" rx="1.1" ry="2.5" fill="none" stroke="#555" stroke-width="0.8" />
</g>
<ellipse cx="244.8" cy="741.0" rx="8.8" ry="12.2" fill="none" stroke="#6a6a6a" stroke-width="2.4" transform="rotate(30 244.8 741)"/>
<ellipse cx="244.8" cy="741.0" rx="8.8" ry="12.2" fill="none" stroke="#d8d8d8" stroke-width="0.8" transform="rotate(30 244.8 741)"/>
<ellipse cx="259.0" cy="751.5" rx="8.8" ry="12.2" fill="none" stroke="#6a6a6a" stroke-width="2.4" transform="rotate(30 259 751.5)"/>
<ellipse cx="259.0" cy="751.5" rx="8.8" ry="12.2" fill="none" stroke="#d8d8d8" stroke-width="0.8" transform="rotate(30 259 751.5)"/>
<ellipse cx="208.5" cy="821.0" rx="57.0" ry="33.5" fill="none" stroke="#3a3a3a" stroke-width="4.2" />
<ellipse cx="208.5" cy="821.0" rx="57.0" ry="32.9" fill="none" stroke="#9a9a9a" stroke-width="1.3" />
<ellipse cx="177.5" cy="866.5" rx="2.5" ry="1.9" fill="#f0f0f0" stroke="#777" stroke-width="1.4" />
<ellipse cx="177.5" cy="877.0" rx="2.5" ry="1.5" fill="#f0f0f0" stroke="#777" stroke-width="1.4" />
<ellipse cx="177.5" cy="886.0" rx="2.5" ry="1.9" fill="#f0f0f0" stroke="#777" stroke-width="1.4" />
<path d="M208.5,867.68 L208.5,874.72 A10.25,5.2800000000000065 0 0 0 229,874.72 L229,867.68 Z" fill="url(#gCylL)" stroke="#333" stroke-width="1" />
<ellipse cx="218.8" cy="867.7" rx="10.2" ry="5.3" fill="#9a9a9a" stroke="#333" stroke-width="1" />
<ellipse cx="218.8" cy="867.7" rx="6.6" ry="3.3" fill="#3a3a3a" stroke="none" stroke-width="1" />
<ellipse cx="218.8" cy="868.2" rx="3.5" ry="1.8" fill="#ddd" stroke="none" stroke-width="1" />
<path d="M152.8,933 Q153,970 208.2,971.2 Q268,970 268.4,933 Q262,918 245,914 L172,914 Q155,918 152.8,933 Z" fill="url(#gRimL)" stroke="#2a2a2a" stroke-width="1" />
<path d="M155,940 Q162,964 208,966 Q254,964 266,940" fill="none" stroke="#3a3a3a" stroke-width="1" />
<path d="M157,947 Q170,961 208,962" fill="none" stroke="#888" stroke-width="0.8" />
<path d="M159.6,914 L159.6,940 Q168,955 208,956 Q250,955 261.6,940 L261.6,914 Z" fill="url(#gHousing)" stroke="#222" stroke-width="1" />
<path d="M159.6,913.9 Q160,903 169.3,897.4 Q182,889 197.5,885.2 Q209,889 221.8,885.2 Q240,889 252,897.4 Q261,903 261.6,913.9 L261.6,920 Q255,932 222.7,942 L199.4,942 Q170,934 159.6,920.7 Z" fill="#5e5e5e" stroke="#262626" stroke-width="1" />
<ellipse cx="162.5" cy="914.0" rx="1.8" ry="2.8" fill="#1e1e1e" stroke="none" stroke-width="1" />
<ellipse cx="258.5" cy="913.5" rx="1.8" ry="2.8" fill="#1e1e1e" stroke="none" stroke-width="1" />
<ellipse cx="186.0" cy="929.0" rx="13.3" ry="8.3" fill="#fafafa" stroke="#3a3a3a" stroke-width="1" />
<path d="M194,922 Q199,926 198,932" fill="none" stroke="#222" stroke-width="2" />
<ellipse cx="210.3" cy="914.8" rx="7.0" ry="3.6" fill="#f6f6f6" stroke="#3a3a3a" stroke-width="1" />
<ellipse cx="219.3" cy="933.3" rx="5.3" ry="3.0" fill="#f6f6f6" stroke="#3a3a3a" stroke-width="1" />
<polygon points="219.0,898.0 228.0,891.0 246.0,899.0 244.0,909.0 236.0,906.0" fill="#9a9a9a" stroke="#3a3a3a" stroke-width="0.8" />
<ellipse cx="228.0" cy="892.0" rx="2.8" ry="2.0" fill="#bbb" stroke="none" stroke-width="1" />
<ellipse cx="179.5" cy="899.5" rx="1.5" ry="1.5" fill="#ddd" stroke="none" stroke-width="1" />
<path d="M199,954.7 L199,942 L222,942 L222,954.7 Z" fill="#5a5a5a" stroke="#2a2a2a" stroke-width="0.8" />
<path d="M201.5,953.5 L201.5,947 Q210,941 219.5,947 L219.5,953.5 Z" fill="#f6f6f6" stroke="none" stroke-width="1" />
<path d="M221,986 Q232,977 242,976" fill="none" stroke="#888" stroke-width="1.4" />
<path d="M218,990 Q234,982 244,978" fill="none" stroke="#888" stroke-width="1.4" />
<polygon points="200.0,993.0 214.0,986.0 223.0,990.0 223.0,996.0 209.0,1002.0 200.0,998.0" fill="#7a7a7a" stroke="#2a2a2a" stroke-width="1" />
<polygon points="200.0,993.0 214.0,986.0 223.0,990.0 209.0,997.0" fill="#b4b4b4" stroke="#333" stroke-width="0.6" />
<ellipse cx="643.2" cy="99.7" rx="55.8" ry="32.3" fill="none" stroke="url(#gRingS)" stroke-width="1.6" />
<ellipse cx="643.2" cy="175.8" rx="55.8" ry="32.3" fill="none" stroke="url(#gRingS)" stroke-width="1.6" />
<path d="M585.5,256 L585.5,364 A57.8,32.5 0 0 0 701,364 L701,256 Z" fill="url(#gCyl)" stroke="#1a1a1a" stroke-width="0.8" />
<ellipse cx="643.1" cy="255.7" rx="57.7" ry="32.9" fill="url(#gTop29)" stroke="#2a2a2a" stroke-width="1" />
<ellipse cx="643.1" cy="257.5" rx="54.0" ry="29.5" fill="none" stroke="#666" stroke-width="2.5" filter="url(#b1)"/>
<ellipse cx="642.3" cy="261.0" rx="27.5" ry="13.5" fill="none" stroke="#111" stroke-width="3.5" filter="url(#b2)"/>
<ellipse cx="616.0" cy="263.0" rx="7.0" ry="9.0" fill="#111" stroke="none" stroke-width="1" filter="url(#b3)"/>
<ellipse cx="669.0" cy="263.0" rx="7.0" ry="9.0" fill="#111" stroke="none" stroke-width="1" filter="url(#b3)"/>
<ellipse cx="642.3" cy="262.0" rx="24.5" ry="11.5" fill="url(#gHole)" stroke="#1a1a1a" stroke-width="1.2" />
<ellipse cx="643.0" cy="238.0" rx="9.0" ry="3.5" fill="#f0f0f0" stroke="none" stroke-width="1" filter="url(#b2)"/>
<ellipse cx="643.0" cy="282.0" rx="18.0" ry="3.0" fill="#e8e8e8" stroke="none" stroke-width="1" filter="url(#b2)"/>
<ellipse cx="642.6" cy="442.6" rx="56.1" ry="33.1" fill="none" stroke="url(#gRingS)" stroke-width="1.6" />
<ellipse cx="642.6" cy="523.2" rx="56.1" ry="33.1" fill="none" stroke="url(#gRingS)" stroke-width="1.6" />
<ellipse cx="643.5" cy="578.5" rx="16.8" ry="8.8" fill="none" stroke="#5a5a5a" stroke-width="2" />
<path d="M628,609.0 L628,618.5999999999999 A15.800000000000011,7.199999999999999 0 0 0 659.6,618.5999999999999 L659.6,609.0 Z" fill="url(#gCylL)" stroke="#333" stroke-width="1" />
<ellipse cx="643.8" cy="609.0" rx="15.8" ry="7.2" fill="#9a9a9a" stroke="#333" stroke-width="1" />
<ellipse cx="643.8" cy="609.0" rx="10.1" ry="4.5" fill="#3a3a3a" stroke="none" stroke-width="1" />
<ellipse cx="643.8" cy="609.5" rx="5.4" ry="2.5" fill="#ddd" stroke="none" stroke-width="1" />
<path d="M616.5,684 L616.5,770 A26.5,10 0 0 0 669.5,770 L669.5,684 Z" fill="url(#gCylL)" stroke="#333" stroke-width="0.8" />
<path d="M616.5,684 L616.5,694 A26.5,10 0 0 0 669.5,694 L669.5,684 Z" fill="#555" stroke="none" stroke-width="1" />
<ellipse cx="643.0" cy="684.0" rx="26.5" ry="10.0" fill="#6a6a6a" stroke="#333" stroke-width="0.8" />
<ellipse cx="643.0" cy="684.0" rx="20.0" ry="7.0" fill="#4a4a4a" stroke="none" stroke-width="1" />
<rect x="636.0" y="657.5" width="15.5" height="28.0" fill="url(#gShaft)" stroke="#444" stroke-width="0.8" />
<ellipse cx="643.7" cy="657.5" rx="7.8" ry="2.5" fill="#bbb" stroke="#555" stroke-width="0.6" />
<rect x="638.0" y="649.5" width="11.5" height="8.0" fill="url(#gShaft)" stroke="#444" stroke-width="0.8" />
<ellipse cx="643.7" cy="649.5" rx="5.8" ry="2.0" fill="#ccc" stroke="#555" stroke-width="0.6" />
<rect x="620.2" y="678.0" width="2.6" height="5.0" fill="#eee" stroke="#555" stroke-width="0.5" />
<rect x="626.7" y="686.0" width="2.6" height="5.0" fill="#eee" stroke="#555" stroke-width="0.5" />
<rect x="657.7" y="688.0" width="2.6" height="5.0" fill="#eee" stroke="#555" stroke-width="0.5" />
<rect x="663.2" y="679.0" width="2.6" height="5.0" fill="#eee" stroke="#555" stroke-width="0.5" />
<rect x="646.7" y="693.0" width="2.6" height="5.0" fill="#eee" stroke="#555" stroke-width="0.5" />
<rect x="636.3" y="779.0" width="13.5" height="47.5" fill="url(#gShaft)" stroke="#444" stroke-width="0.8" />
<rect x="640.0" y="826.4" width="7.0" height="14.0" fill="#ddd" stroke="#555" stroke-width="0.8" />
<path d="M624.5,879.5 L624.5,891.5 A19.75,9.0 0 0 0 664,891.5 L664,879.5 Z" fill="url(#gCylL)" stroke="#333" stroke-width="1" />
<ellipse cx="644.2" cy="879.5" rx="19.8" ry="9.0" fill="#9a9a9a" stroke="#333" stroke-width="1" />
<ellipse cx="644.2" cy="879.5" rx="12.6" ry="5.6" fill="#3a3a3a" stroke="none" stroke-width="1" />
<ellipse cx="644.2" cy="880.0" rx="6.7" ry="3.1" fill="#ddd" stroke="none" stroke-width="1" />
<path d="M575.7,952 L576.5,968 Q590,1006 644.4,1007 Q699,1006 712.5,968 L713,952 Z" fill="url(#gRimL)" stroke="#2a2a2a" stroke-width="1" />
<path d="M577,972 Q592,1004 644.4,1005 Q697,1004 712,972" fill="none" stroke="#444" stroke-width="1" />
<ellipse cx="644.4" cy="952.0" rx="68.6" ry="39.7" fill="#8c8c8c" stroke="#2a2a2a" stroke-width="1" />
<ellipse cx="644.4" cy="958.5" rx="63.8" ry="30.0" fill="url(#gBowl)" stroke="#555" stroke-width="1" />
<ellipse cx="644.4" cy="949.0" rx="64.0" ry="33.0" fill="none" stroke="#444" stroke-width="3" filter="url(#b1)"/>
<ellipse cx="621.0" cy="962.0" rx="6.0" ry="9.0" fill="#3a3a3a" stroke="none" stroke-width="1" filter="url(#b3)"/>
<ellipse cx="668.0" cy="962.0" rx="6.0" ry="9.0" fill="#3a3a3a" stroke="none" stroke-width="1" filter="url(#b3)"/>
<path d="M618.7,954 L618.7,960 A25.6,12 0 0 0 670,960 L670,954 Z" fill="#8a8a8a" stroke="#444" stroke-width="0.8" />
<ellipse cx="644.4" cy="954.0" rx="25.6" ry="16.6" fill="#a8a8a8" stroke="#444" stroke-width="0.8" />
<ellipse cx="644.4" cy="957.0" rx="18.0" ry="10.0" fill="#888" stroke="#555" stroke-width="1" />
<ellipse cx="644.4" cy="960.0" rx="12.5" ry="6.8" fill="#f0f0f0" stroke="#444" stroke-width="1" />
<ellipse cx="1008.8" cy="127.3" rx="57.5" ry="33.2" fill="none" stroke="#3a3a3a" stroke-width="4.2" />
<ellipse cx="1008.8" cy="127.3" rx="57.5" ry="32.6" fill="none" stroke="#9a9a9a" stroke-width="1.3" />
<ellipse cx="1009.5" cy="224.4" rx="56.5" ry="32.4" fill="none" stroke="url(#gRingS)" stroke-width="1.6" />
<ellipse cx="1009.5" cy="303.2" rx="56.5" ry="32.2" fill="none" stroke="url(#gRingS)" stroke-width="1.6" />
<path d="M996,412 L996,428 Q1011,438 1027,428 L1027,412 Z" fill="url(#gCylL)" stroke="#3a3a3a" stroke-width="0.9" />
<ellipse cx="1011.5" cy="412.0" rx="15.5" ry="5.0" fill="#c4c4c4" stroke="#555" stroke-width="0.8" />
<rect x="998.0" y="398.0" width="27.0" height="16.0" fill="#a8a8a8" stroke="none" stroke-width="1" />
<path d="M997,401 Q1011.5,407 1026,401" fill="none" stroke="#333" stroke-width="1.3" />
<path d="M997,403 Q1011.5,409 1026,403" fill="none" stroke="#e0e0e0" stroke-width="1" />
<path d="M997,406 Q1011.5,412 1026,406" fill="none" stroke="#333" stroke-width="1.3" />
<path d="M997,408 Q1011.5,414 1026,408" fill="none" stroke="#e0e0e0" stroke-width="1" />
<path d="M997,411 Q1011.5,417 1026,411" fill="none" stroke="#333" stroke-width="1.3" />
<path d="M997,413 Q1011.5,419 1026,413" fill="none" stroke="#e0e0e0" stroke-width="1" />
<path d="M997,416 Q1011.5,422 1026,416" fill="none" stroke="#333" stroke-width="1.3" />
<path d="M997,418 Q1011.5,424 1026,418" fill="none" stroke="#e0e0e0" stroke-width="1" />
<path d="M996,389 L996,400 Q1011,409 1027,400 L1027,389 Z" fill="url(#gCylL)" stroke="#3a3a3a" stroke-width="0.9" />
<ellipse cx="1011.5" cy="389.0" rx="15.5" ry="6.5" fill="#b8b8b8" stroke="#444" stroke-width="0.9" />
<ellipse cx="1011.5" cy="389.0" rx="6.0" ry="3.0" fill="#6a6a6a" stroke="#444" stroke-width="0.6" />
<ellipse cx="1011.5" cy="390.0" rx="3.0" ry="1.5" fill="#ddd" stroke="none" stroke-width="1" />
<path d="M1185,470 L1187,480 Q1212,492 1237,480 L1239,470 Z" fill="url(#gCylL)" stroke="#3a3a3a" stroke-width="0.9" />
<polygon points="1183.5,458.0 1190.0,449.0 1234.0,449.0 1240.5,458.0 1240.0,472.0 1232.0,477.5 1192.0,477.5 1184.0,472.0" fill="#5e5e5e" stroke="#262626" stroke-width="1" />
<polygon points="1192.0,465.0 1218.0,467.0 1217.0,476.5 1192.0,474.5" fill="#8e8e8e" stroke="#333" stroke-width="0.6" />
<path d="M1189.4,414.5 L1189.4,463 Q1212,472 1234.7,463 L1234.7,414.5 Z" fill="url(#gOutlet)" stroke="#2a2a2a" stroke-width="1" />
<path d="M1190,428 Q1212,435 1234,428" fill="none" stroke="#7a7a7a" stroke-width="0.7" />
<path d="M1190,436 Q1212,443 1234,436" fill="none" stroke="#7a7a7a" stroke-width="0.7" />
<path d="M1190,444 Q1212,451 1234,444" fill="none" stroke="#7a7a7a" stroke-width="0.7" />
<path d="M1190,452 Q1212,459 1234,452" fill="none" stroke="#7a7a7a" stroke-width="0.7" />
<ellipse cx="1212.0" cy="414.5" rx="22.6" ry="7.5" fill="#7a7a7a" stroke="#2a2a2a" stroke-width="1" />
<ellipse cx="1212.0" cy="415.5" rx="20.0" ry="6.0" fill="url(#gCyl)" stroke="none" stroke-width="1" />
<path d="M1192,416.5 Q1212,423.5 1232,416.5" fill="none" stroke="#aaa" stroke-width="1.2" />
<ellipse cx="1163.0" cy="496.7" rx="25.5" ry="14.2" fill="none" stroke="#777" stroke-width="1.8" />
<g transform="rotate(35 926 496)">
<rect x="925.0" y="492.5" width="9.0" height="7.0" fill="#9a9a9a" stroke="#333" stroke-width="0.8" />
<rect x="917.0" y="491.0" width="8.0" height="10.0" fill="#555" stroke="#222" stroke-width="0.8" />
<rect x="918.5" y="492.5" width="3.0" height="7.0" fill="#8a8a8a" stroke="none" stroke-width="1" />
</g>
<ellipse cx="936.6" cy="502.2" rx="2.6" ry="4.2" fill="none" stroke="#777" stroke-width="1.2" transform="rotate(30 936.6 502.2)"/>
<path d="M1082,555 L1082,590 Q1111,606 1139.4,590 L1139.4,555 Z" fill="url(#gOutlet)" stroke="#222" stroke-width="1" />
<path d="M929.6,562 Q929,522 962,518 L1045,518 Q1082,522 1084,562 Q1080,606 1005,608.7 Q933,606 929.6,562 Z" fill="url(#gVolute)" stroke="#222" stroke-width="1" />
<path d="M929.6,562 Q929,522 962,518 L1045,518 Q1082,522 1084,562 Q1080,606 1005,608.7 Q933,606 929.6,562 Z" fill="url(#gVoluteV)" stroke="none" stroke-width="1" />
<ellipse cx="1000.0" cy="592.0" rx="40.0" ry="8.0" fill="#d8d8d8" stroke="none" stroke-width="1" filter="url(#b3)" opacity="0.7"/>
<polygon points="953.0,498.0 968.7,512.0 967.5,556.0 953.0,548.0" fill="#2a2a2a" stroke="none" stroke-width="1" />
<polygon points="968.7,512.0 995.0,519.6 995.0,562.0 967.5,556.0" fill="#8c8c8c" stroke="none" stroke-width="1" />
<polygon points="995.0,519.6 1024.0,519.6 1027.6,562.0 995.0,562.0" fill="#9a9a9a" stroke="none" stroke-width="1" />
<polygon points="1024.0,519.6 1054.0,512.0 1055.3,555.0 1027.6,562.0" fill="#8a8a8a" stroke="none" stroke-width="1" />
<polygon points="1054.0,512.0 1068.0,499.0 1069.7,548.0 1055.3,555.0" fill="#2a2a2a" stroke="none" stroke-width="1" />
<path d="M946,552 L968,560 L995,566.5 L1028,566.5 L1056,559 L1075,550" fill="none" stroke="#b4b4b4" stroke-width="3" />
<rect x="1006.5" y="523.0" width="7.5" height="44.0" fill="url(#gShaft)" stroke="#444" stroke-width="0.6" />
<rect x="946.0" y="487.0" width="6.5" height="48.0" fill="url(#gShaft)" stroke="#3a3a3a" stroke-width="0.6" />
<rect x="1069.0" y="487.0" width="6.5" height="48.0" fill="url(#gShaft)" stroke="#3a3a3a" stroke-width="0.6" />
<polygon points="953.0,481.0 970.0,464.8 995.0,455.8 1026.4,455.8 1053.0,465.4 1068.5,481.0 1068.0,499.0 1054.0,512.0 1024.0,519.6 995.0,519.6 968.7,512.0 953.0,498.0" fill="#3a3a3a" stroke="#1e1e1e" stroke-width="1" />
<ellipse cx="1011.2" cy="487.0" rx="50.2" ry="29.0" fill="url(#gCylL)" stroke="#222" stroke-width="1" />
<ellipse cx="1011.2" cy="494.0" rx="45.0" ry="19.0" fill="#555" stroke="none" stroke-width="1" />
<path d="M968,492 Q1011,470 1054,492 L1050,498 Q1011,478 972,498 Z" fill="#c0c0c0" stroke="none" stroke-width="1" />
<ellipse cx="1011.2" cy="503.0" rx="34.0" ry="12.0" fill="#3a3a3a" stroke="none" stroke-width="1" />
<rect x="1003.0" y="500.0" width="17.0" height="14.0" fill="#999" stroke="#333" stroke-width="0.6" />
<ellipse cx="1011.5" cy="500.0" rx="8.5" ry="3.5" fill="#bbb" stroke="#333" stroke-width="0.6" />
<ellipse cx="1011.2" cy="504.0" rx="14.0" ry="6.0" fill="none" stroke="#777" stroke-width="1" />
<ellipse cx="1011.0" cy="453.5" rx="4.0" ry="2.5" fill="#888" stroke="#333" stroke-width="0.8" />
<path d="M1078.6,521 L1078.6,552 Q1112,568 1144.6,552 L1144.6,521 Z" fill="url(#gOutlet)" stroke="#222" stroke-width="1" />
<path d="M1078.6,552 Q1112,568 1144.6,552" fill="none" stroke="#222" stroke-width="1.4" />
<ellipse cx="1111.6" cy="521.0" rx="33.0" ry="16.5" fill="#8a8a8a" stroke="#222" stroke-width="1" />
<ellipse cx="1111.6" cy="522.0" rx="28.0" ry="13.0" fill="url(#gOutlet)" stroke="none" stroke-width="1" />
<path d="M1086.0,515 Q1111.6,528 1137.0,515" fill="none" stroke="#333" stroke-width="0.9" />
<path d="M1087.5,519 Q1111.6,532 1135.5,519" fill="none" stroke="#333" stroke-width="0.9" />
<path d="M1089.0,523 Q1111.6,536 1134.0,523" fill="none" stroke="#333" stroke-width="0.9" />
<path d="M1090,528 Q1111.6,540 1133,528 Q1111.6,533 1090,528 Z" fill="#ccc" stroke="none" stroke-width="1" />
<rect x="992.4" y="616.7" width="35.8" height="54.0" fill="#f5f3f3" stroke="none" stroke-width="1" />
<path d="M993.6,649.5 L994.5,655 Q1010.5,666 1026.5,655 L1027.4,649.5 Z" fill="#6e6660" stroke="#3a3a3a" stroke-width="0.8" />
<ellipse cx="1010.5" cy="649.5" rx="16.9" ry="9.5" fill="#8a827c" stroke="#3a3a3a" stroke-width="1" />
<ellipse cx="1010.5" cy="651.0" rx="8.3" ry="4.2" fill="#f2e8e0" stroke="#7a7068" stroke-width="1" />
<polygon points="974.0,728.0 974.0,750.0 989.0,754.0 989.0,732.0" fill="url(#gCylL)" stroke="#333" stroke-width="0.8" />
<path d="M996.6,735 L997.5,752 Q1017,758 1038,752 L1038,736 Z" fill="url(#gCylL)" stroke="#333" stroke-width="0.8" />
<path d="M1001,737 Q1005,748 1015,754" fill="none" stroke="#333" stroke-width="2" filter="url(#b1)"/>
<polygon points="1038.0,727.0 1038.0,745.0 1060.7,735.0 1060.7,712.0" fill="url(#gRimL)" stroke="#333" stroke-width="0.8" />
<polygon points="960.8,706.0 960.8,719.0 967.0,722.0 967.0,712.0" fill="#2a2a2a" stroke="none" stroke-width="1" />
<ellipse cx="1010.8" cy="706.4" rx="50.0" ry="28.4" fill="url(#gImp)" stroke="#3a3a3a" stroke-width="1" />
<path d="M960.8,706.4 L960.8,711 A50,28.4 0 0 0 1060.7,711 L1060.7,706.4 A50,28.4 0 0 1 960.8,706.4 Z" fill="#b4b4b4" stroke="#444" stroke-width="0.6" />
<ellipse cx="1011.2" cy="707.3" rx="10.4" ry="5.9" fill="#8a8a8a" stroke="#555" stroke-width="0.8" />
<ellipse cx="1011.5" cy="706.0" rx="4.5" ry="3.0" fill="#d0d0d0" stroke="#555" stroke-width="0.6" />
<polygon points="1000.0,772.0 1007.0,768.0 1017.0,768.0 1023.2,772.0 1023.2,781.0 1017.0,785.6 1007.0,785.6 1000.0,781.0" fill="#9a9a9a" stroke="#2e2e2e" stroke-width="1" />
<polygon points="1000.0,772.0 1007.0,768.0 1017.0,768.0 1023.2,772.0 1017.0,776.0 1007.0,776.0" fill="#777" stroke="#333" stroke-width="0.6" />
<polygon points="1007.0,776.0 1017.0,776.0 1017.0,785.6 1007.0,785.6" fill="#c0c0c0" stroke="none" stroke-width="1" />
<polygon points="1000.0,772.0 1007.0,776.0 1007.0,785.6 1000.0,781.0" fill="#6a6a6a" stroke="none" stroke-width="1" />
<ellipse cx="1012.0" cy="772.0" rx="3.6" ry="2.2" fill="#e4e4e4" stroke="#444" stroke-width="0.6" />
<path d="M939,840 L939,852 A72,36 0 0 0 1083,852 L1083,840 Z" fill="url(#gPlateRim)" stroke="#333" stroke-width="1" />
<ellipse cx="1011.0" cy="840.0" rx="72.0" ry="35.0" fill="url(#gPlate42)" stroke="#333" stroke-width="1" />
<ellipse cx="1011.0" cy="842.0" rx="48.0" ry="28.0" fill="none" stroke="#3a3a3a" stroke-width="2" />
<ellipse cx="1011.0" cy="843.0" rx="44.0" ry="25.0" fill="url(#gPlate42)" stroke="none" stroke-width="1" />
<ellipse cx="1011.0" cy="843.5" rx="30.0" ry="15.5" fill="#a8a8a8" stroke="none" stroke-width="1" />
<ellipse cx="1011.0" cy="844.5" rx="25.0" ry="12.0" fill="#ffffff" stroke="#666" stroke-width="1" />
<ellipse cx="971.0" cy="820.0" rx="2.5" ry="1.7" fill="#eee" stroke="none" stroke-width="1" />
<ellipse cx="1051.0" cy="820.0" rx="2.5" ry="1.7" fill="#eee" stroke="none" stroke-width="1" />
<ellipse cx="971.0" cy="867.0" rx="2.5" ry="1.7" fill="#eee" stroke="none" stroke-width="1" />
<ellipse cx="1051.0" cy="867.0" rx="2.5" ry="1.7" fill="#eee" stroke="none" stroke-width="1" />
<g >
<polygon points="952.7,908.8 989.8,899.3 968.0,940.0 944.0,950.0 937.6,936.0" fill="#333" stroke="none" stroke-width="1" />
<polygon points="952.7,908.8 977.9,893.7 989.8,899.3 967.8,918.2 962.0,922.0" fill="#505050" stroke="#262626" stroke-width="1" />
<ellipse cx="971.6" cy="903.0" rx="2.2" ry="1.4" fill="#9a9a9a" stroke="none" stroke-width="1" />
<polygon points="967.8,918.2 989.8,899.3 975.0,930.0 968.0,940.0 960.0,936.0" fill="#3a3a3a" stroke="#222" stroke-width="0.8" />
<polygon points="952.7,908.8 962.0,922.0 950.0,942.0 944.0,950.0 937.6,936.0" fill="#4a4a4a" stroke="#222" stroke-width="1" />
<path d="M953,910 L962,921 L966,918" fill="none" stroke="#a8a8a8" stroke-width="2.2" />
<polygon points="944.0,930.0 958.0,920.0 962.0,926.0 950.0,938.0" fill="#222" stroke="none" stroke-width="1" />
<path d="M942,946 Q942,936 952,932 L966,930 Q975,931 975,940 L973,948 Q966,955 952,954 Q943,953 942,946 Z" fill="#9c9c9c" stroke="#333" stroke-width="0.8" />
<polygon points="951.4,947.2 971.6,942.2 989.8,953.5 980.4,959.8" fill="#5e5e5e" stroke="#2a2a2a" stroke-width="0.9" />
<ellipse cx="971.6" cy="950.3" rx="2.6" ry="1.6" fill="#f0f0f0" stroke="none" stroke-width="1" />
<path d="M951.4,947.2 L980.4,959.8 L966.5,1010 Q965,1013.5 961,1012 L940,1001 Q937,999 937.6,995 L949,950 Q950,947 951.4,947.2 Z" fill="#9e9e9e" stroke="#2a2a2a" stroke-width="1" />
<path d="M938.5,990 L967,1003 L965.3,1012.7 L940,1001 Q937,999 937.6,995 Z" fill="#5c5c5c" stroke="none" stroke-width="1" />
<polygon points="980.4,959.8 989.8,953.5 976.0,1005.0 966.5,1010.0" fill="#6a6a6a" stroke="#2a2a2a" stroke-width="0.9" />
<path d="M980.4,960 L967,1010" fill="none" stroke="#c8c8c8" stroke-width="1.5" />
<rect x="971.0" y="1000.0" width="5.0" height="10.0" fill="#555" stroke="#222" stroke-width="0.6" />
</g>
<g transform="translate(2022 0) scale(-1 1)">
<polygon points="952.7,908.8 989.8,899.3 968.0,940.0 944.0,950.0 937.6,936.0" fill="#333" stroke="none" stroke-width="1" />
<polygon points="952.7,908.8 977.9,893.7 989.8,899.3 967.8,918.2 962.0,922.0" fill="#505050" stroke="#262626" stroke-width="1" />
<ellipse cx="971.6" cy="903.0" rx="2.2" ry="1.4" fill="#9a9a9a" stroke="none" stroke-width="1" />
<polygon points="967.8,918.2 989.8,899.3 975.0,930.0 968.0,940.0 960.0,936.0" fill="#3a3a3a" stroke="#222" stroke-width="0.8" />
<polygon points="952.7,908.8 962.0,922.0 950.0,942.0 944.0,950.0 937.6,936.0" fill="#4a4a4a" stroke="#222" stroke-width="1" />
<path d="M953,910 L962,921 L966,918" fill="none" stroke="#a8a8a8" stroke-width="2.2" />
<polygon points="944.0,930.0 958.0,920.0 962.0,926.0 950.0,938.0" fill="#222" stroke="none" stroke-width="1" />
<path d="M942,946 Q942,936 952,932 L966,930 Q975,931 975,940 L973,948 Q966,955 952,954 Q943,953 942,946 Z" fill="#9c9c9c" stroke="#333" stroke-width="0.8" />
<polygon points="951.4,947.2 971.6,942.2 989.8,953.5 980.4,959.8" fill="#5e5e5e" stroke="#2a2a2a" stroke-width="0.9" />
<ellipse cx="971.6" cy="950.3" rx="2.6" ry="1.6" fill="#f0f0f0" stroke="none" stroke-width="1" />
<path d="M951.4,947.2 L980.4,959.8 L966.5,1010 Q965,1013.5 961,1012 L940,1001 Q937,999 937.6,995 L949,950 Q950,947 951.4,947.2 Z" fill="#9e9e9e" stroke="#2a2a2a" stroke-width="1" />
<path d="M938.5,990 L967,1003 L965.3,1012.7 L940,1001 Q937,999 937.6,995 Z" fill="#5c5c5c" stroke="none" stroke-width="1" />
<polygon points="980.4,959.8 989.8,953.5 976.0,1005.0 966.5,1010.0" fill="#6a6a6a" stroke="#2a2a2a" stroke-width="0.9" />
<path d="M980.4,960 L967,1010" fill="none" stroke="#c8c8c8" stroke-width="1.5" />
<rect x="971.0" y="1000.0" width="5.0" height="10.0" fill="#555" stroke="#222" stroke-width="0.6" />
</g>
<ellipse cx="971.8" cy="1019.8" rx="4.9" ry="1.9" fill="#f0f0f0" stroke="#555" stroke-width="1.8" />
<ellipse cx="1051.2" cy="1020.7" rx="4.1" ry="1.8" fill="#f0f0f0" stroke="#555" stroke-width="1.8" />
<rect x="968.0" y="1027.5" width="7.0" height="10.0" fill="#ddd" stroke="#555" stroke-width="0.8" />
<polygon points="965.5,1038.0 971.5,1036.0 977.5,1038.0 977.5,1043.0 971.5,1046.0 965.5,1043.0" fill="#777" stroke="#333" stroke-width="0.8" />
<rect x="1048.0" y="1027.5" width="7.0" height="10.0" fill="#ddd" stroke="#555" stroke-width="0.8" />
<polygon points="1045.5,1038.0 1051.5,1036.0 1057.5,1038.0 1057.5,1043.0 1051.5,1046.0 1045.5,1043.0" fill="#777" stroke="#333" stroke-width="0.8" />
</svg></body></html>
